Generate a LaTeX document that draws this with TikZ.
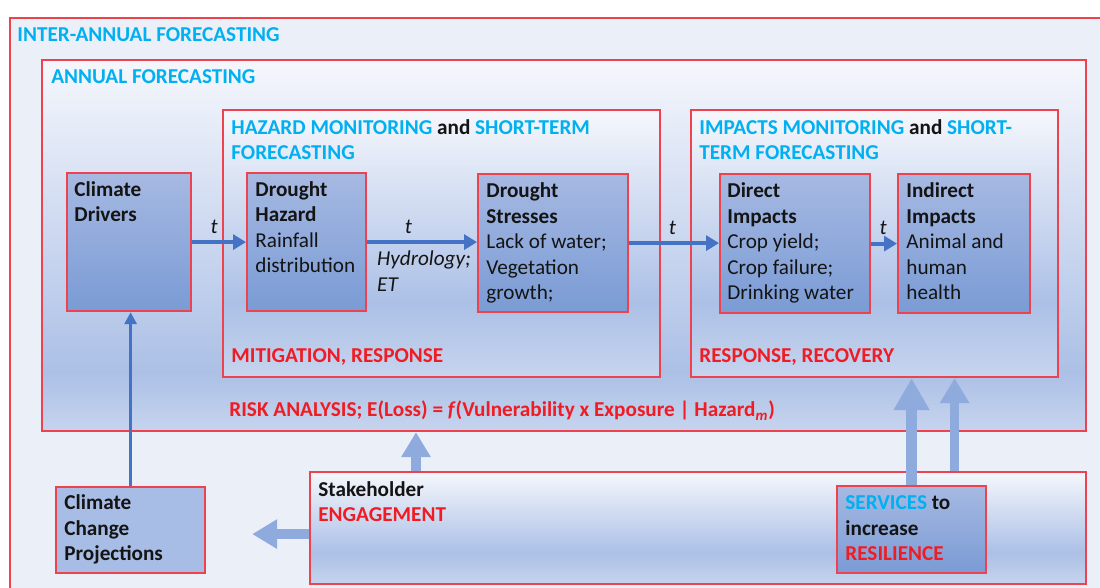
\documentclass[tikz,border=0pt]{standalone}
\usepackage{fontspec}
\setmainfont{Carlito}
\usetikzlibrary{arrows.meta}
\definecolor{skyblue}{RGB}{0,176,240}
\definecolor{alertred}{RGB}{240,28,36}
\definecolor{edgered}{RGB}{238,66,78}
\definecolor{darkarrow}{RGB}{68,114,196}
\definecolor{fatarrow}{RGB}{143,170,220}
\definecolor{outerfill}{RGB}{235,239,248}
\definecolor{inktext}{RGB}{20,20,20}
\definecolor{paneltop}{RGB}{245,247,252}
\definecolor{panelmid}{RGB}{172,192,230}
\definecolor{panelbot}{RGB}{198,212,238}
\definecolor{blocktop}{RGB}{166,185,226}
\definecolor{blockbot}{RGB}{122,155,213}
\definecolor{projfill}{RGB}{168,189,229}
\pgfdeclareverticalshading{panelshade}{100bp}{color(0bp)=(panelbot); color(25bp)=(panelbot); color(39bp)=(panelmid); color(75bp)=(paneltop); color(100bp)=(paneltop)}
\pgfdeclareverticalshading{annualshade}{100bp}{color(0bp)=(panelbot); color(25bp)=(panelbot); color(33bp)=(panelmid); color(75bp)=(paneltop); color(100bp)=(paneltop)}
\newcommand{\boxfont}{\fontsize{10.6}{12.8}\selectfont}
\tikzset{
redframe/.style={draw=edgered, line width=1.1pt, inner sep=0pt, anchor=north west},
container/.style={redframe, shading=panelshade},
block/.style={redframe, top color=blocktop, bottom color=blockbot},
headtext/.style={inner sep=0pt, anchor=base west, align=left, font=\boxfont\bfseries, text=skyblue},
alerttext/.style={headtext, text=alertred},
blocktext/.style={headtext, text=inktext},
tlab/.style={font=\boxfont\itshape, text=inktext, above},
flow/.style={draw=darkarrow, line width=2pt, -{Triangle[length=6.5pt,width=7.5pt]}},
thinflow/.style={draw=darkarrow, line width=1.5pt, -{Triangle[length=6pt,width=6pt]}},
fat/.style={draw=fatarrow, line width=4.8pt, -{Triangle[length=12.5pt,width=14pt]}}
}
\begin{document}
\begin{tikzpicture}[x=0.5pt, y=-0.5pt]
\clip (0,0) rectangle (1100,588);
\fill[white] (0,0) rectangle (1100,588);
\node[redframe, fill=outerfill, minimum width=560pt, minimum height=300pt] (interannual) at (9,17) {};
\node[redframe, shading=annualshade, minimum width=522pt, minimum height=185.5pt] (annual) at (41,59) {};
\node[container, minimum width=218.5pt, minimum height=133.5pt] (hazmon) at (222,109) {};
\node[container, minimum width=183.5pt, minimum height=133.5pt] (impmon) at (690,109) {};
\node[container, minimum width=388pt, minimum height=56pt] (stake) at (309,471) {};
\node[block, minimum width=62pt, minimum height=69pt] (drivers) at (66,172) {};
\node[block, minimum width=59.5pt, minimum height=69pt] (hazard) at (246,172) {};
\node[block, minimum width=75pt, minimum height=69pt] (stresses) at (477,173) {};
\node[block, minimum width=75pt, minimum height=69.5pt] (direct) at (719,173) {};
\node[block, minimum width=66pt, minimum height=69.5pt] (indirect) at (897,173) {};
\node[redframe, fill=projfill, minimum width=74.5pt, minimum height=43pt] (proj) at (55,486) {};
\node[block, minimum width=74.5pt, minimum height=43.5pt] (serv) at (836,485) {};

\node[headtext] (interannual-t) at (17,42) {INTER-ANNUAL FORECASTING};
\node[headtext] (annual-t) at (51,84) {ANNUAL FORECASTING};
\node[headtext] (hazmon-t) at (231,160) {HAZARD MONITORING \textcolor{inktext}{and} SHORT-TERM\\FORECASTING};
\node[headtext] (impmon-t) at (699,160) {IMPACTS MONITORING \textcolor{inktext}{and} SHORT-\\TERM FORECASTING};
\node[alerttext] (hazmon-b) at (231,363) {MITIGATION, RESPONSE};
\node[alerttext] (impmon-b) at (699,363) {RESPONSE, RECOVERY};
\node[alerttext] (annual-b) at (229,417) {RISK ANALYSIS; E(Loss) = \textit{f}(Vulnerability x Exposure | Hazard\textsubscript{\textit{m}})};
\node[blocktext] (drivers-t) at (74,222) {Climate\\Drivers};
\node[blocktext] (hazard-t) at (255,273) {Drought\\Hazard\\\textmd{Rainfall}\\\textmd{distribution}};
\node[blocktext] (stresses-t) at (486,300) {Drought\\Stresses\\\textmd{Lack of water;}\\\textmd{Vegetation}\\\textmd{growth;}};
\node[blocktext] (direct-t) at (727,300) {Direct\\Impacts\\\textmd{Crop yield;}\\\textmd{Crop failure;}\\\textmd{Drinking water}};
\node[blocktext] (indirect-t) at (906,300) {Indirect\\Impacts\\\textmd{Animal and}\\\textmd{human}\\\textmd{health}};
\node[blocktext] (stake-t) at (318,522) {Stakeholder\\\textcolor{alertred}{ENGAGEMENT}};
\node[blocktext] (proj-t) at (64,561) {Climate\\Change\\Projections};
\node[blocktext] (serv-t) at (845,561) {\textcolor{skyblue}{SERVICES} to\\increase\\\textcolor{alertred}{RESILIENCE}};

\draw[flow] (drivers.east) -- node[tlab, pos=0.41] {t} (drivers.east -| hazard.west);
\draw[flow] (hazard.east) -- node[tlab, pos=0.375] {t}
  node[at start, inner sep=0pt, anchor=north west, xshift=4pt, yshift=-3.5pt, align=left, font=\boxfont\itshape, text=inktext] (hydro) {Hydrology;\\ET}
  (hazard.east -| stresses.west);
\draw[flow] (stresses.east) -- node[tlab, pos=0.48] {t} (stresses.east -| direct.west);
\draw[flow] (direct.east) -- node[tlab, pos=0.46] {t} (direct.east -| indirect.west);
\draw[thinflow] (proj.north) -- (proj.north |- drivers.south);

\coordinate (stake-up) at ([xshift=53.5pt]stake.north west);
\coordinate (stake-l) at ([yshift=-3pt]stake.west);
\coordinate (serv-r) at ([xshift=21.5pt]serv.north);
\draw[fat] (stake-up) -- (stake-up |- annual.south);
\draw[fat, shorten >=23pt] (stake-l) -- (stake-l -| proj.east);
\draw[fat, line width=5.5pt, -{Triangle[length=16pt,width=17pt]}] (serv.north) -- (serv.north |- impmon.south);
\draw[fat] (serv-r |- stake.north) -- (serv-r |- impmon.south);
\end{tikzpicture}
\end{document}
